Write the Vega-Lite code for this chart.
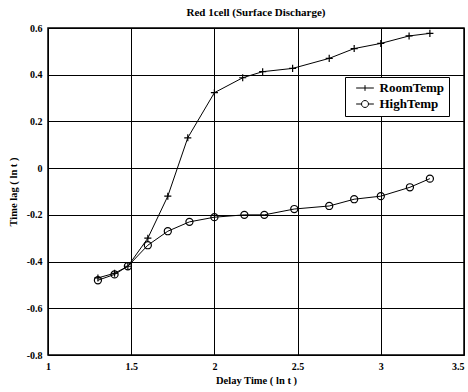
{
  "$schema": "https://vega.github.io/schema/vega-lite/v6.json",
  "autosize": {"type": "none"},
  "width": 416,
  "height": 327,
  "padding": {"left": 48, "top": 28, "right": 4, "bottom": 37},
  "background": "white",
  "title": {"text": "Red 1cell (Surface Discharge)", "font": "Liberation Serif", "fontSize": 11, "fontWeight": "bold", "color": "black", "offset": 5},
  "config": {
    "view": {"stroke": "black", "strokeWidth": 1.5},
    "axis": {
      "domain": false,
      "grid": true,
      "gridColor": "black",
      "gridOpacity": 1,
      "gridWidth": 1,
      "ticks": false,
      "labelFlush": false,
      "labelOverlap": false,
      "labelFont": "Liberation Serif",
      "labelFontWeight": "bold",
      "labelFontSize": 10,
      "labelColor": "black",
      "titleFont": "Liberation Serif",
      "titleFontWeight": "bold",
      "titleFontSize": 10.5,
      "titleColor": "black"
    }
  },
  "data": {
    "values": [
      {"series": "RoomTemp", "x": 1.3, "y": -0.47},
      {"series": "RoomTemp", "x": 1.4, "y": -0.45},
      {"series": "RoomTemp", "x": 1.48, "y": -0.42},
      {"series": "RoomTemp", "x": 1.6, "y": -0.3},
      {"series": "RoomTemp", "x": 1.72, "y": -0.12},
      {"series": "RoomTemp", "x": 1.84, "y": 0.13},
      {"series": "RoomTemp", "x": 2.0, "y": 0.323},
      {"series": "RoomTemp", "x": 2.17, "y": 0.387},
      {"series": "RoomTemp", "x": 2.29, "y": 0.413},
      {"series": "RoomTemp", "x": 2.47, "y": 0.427},
      {"series": "RoomTemp", "x": 2.69, "y": 0.47},
      {"series": "RoomTemp", "x": 2.84, "y": 0.512},
      {"series": "RoomTemp", "x": 3.0, "y": 0.534},
      {"series": "RoomTemp", "x": 3.17, "y": 0.566},
      {"series": "RoomTemp", "x": 3.295, "y": 0.577},
      {"series": "HighTemp", "x": 1.3, "y": -0.48},
      {"series": "HighTemp", "x": 1.4, "y": -0.455},
      {"series": "HighTemp", "x": 1.48, "y": -0.42},
      {"series": "HighTemp", "x": 1.6, "y": -0.33},
      {"series": "HighTemp", "x": 1.72, "y": -0.27},
      {"series": "HighTemp", "x": 1.85, "y": -0.23},
      {"series": "HighTemp", "x": 2.0, "y": -0.21},
      {"series": "HighTemp", "x": 2.18, "y": -0.2},
      {"series": "HighTemp", "x": 2.3, "y": -0.2},
      {"series": "HighTemp", "x": 2.48, "y": -0.175},
      {"series": "HighTemp", "x": 2.69, "y": -0.162},
      {"series": "HighTemp", "x": 2.84, "y": -0.133},
      {"series": "HighTemp", "x": 3.0, "y": -0.12},
      {"series": "HighTemp", "x": 3.175, "y": -0.082},
      {"series": "HighTemp", "x": 3.295, "y": -0.045}
    ]
  },
  "encoding": {
    "x": {
      "field": "x", "type": "quantitative",
      "scale": {"domain": [1, 3.5], "nice": false, "zero": false},
      "axis": {
        "values": [1, 1.5, 2, 2.5, 3, 3.5],
        "labelExpr": "'' + datum.value",
        "labelAlign": {"condition": {"test": "datum.value === 3.5", "value": "right"}, "value": "center"},
        "title": "Delay Time ( ln t )", "labelPadding": 6, "titlePadding": 4
      }
    },
    "y": {
      "field": "y", "type": "quantitative",
      "scale": {"domain": [-0.8, 0.6], "nice": false, "zero": false},
      "axis": {"values": [-0.8, -0.6, -0.4, -0.2, 0, 0.2, 0.4, 0.6], "labelExpr": "'' + datum.value", "title": "Time lag ( ln t )", "labelPadding": 6, "titlePadding": 8}
    }
  },
  "layer": [
    {
      "mark": {"type": "line", "color": "black", "strokeWidth": 1},
      "encoding": {"detail": {"field": "series"}}
    },
    {
      "mark": {"type": "point", "filled": false, "color": "black", "strokeWidth": 1.2, "opacity": 1, "size": 50},
      "encoding": {
        "shape": {
          "field": "series", "type": "nominal",
          "scale": {"domain": ["RoomTemp", "HighTemp"], "range": ["M-1,0H1M0,-1V1", "circle"]},
          "legend": null
        }
      }
    },
    {
      "mark": {"type": "point", "filled": false, "color": "black", "strokeWidth": 1, "opacity": 0, "size": 40},
      "encoding": {
        "shape": {
          "field": "series", "type": "nominal",
          "scale": {"domain": ["RoomTemp", "HighTemp"], "range": ["M-2.8,0H2.8M0,-0.9V0.9", "M-2.8,0H-1.1M1.1,0H2.8M1.1,0A1.1,1.1 0 1 1 -1.1,0A1.1,1.1 0 1 1 1.1,0"]},
          "legend": {
            "title": null,
            "orient": "none",
            "legendX": 297,
            "legendY": 49,
            "direction": "vertical",
            "fillColor": "white",
            "strokeColor": "black",
            "padding": 4.5,
            "rowPadding": 2,
            "labelFont": "Liberation Serif",
            "labelFontWeight": "bold",
            "labelFontSize": 13,
            "labelColor": "black",
            "labelExpr": "datum.label + '    '",
            "symbolSize": 40,
            "symbolOffset": 9,
            "labelOffset": 8,
            "symbolOpacity": 1,
            "symbolFillColor": "transparent",
            "symbolStrokeColor": "black",
            "symbolStrokeWidth": 1
          }
        }
      }
    }
  ],
  "resolve": {"scale": {"shape": "independent"}, "legend": {"shape": "independent"}}
}
